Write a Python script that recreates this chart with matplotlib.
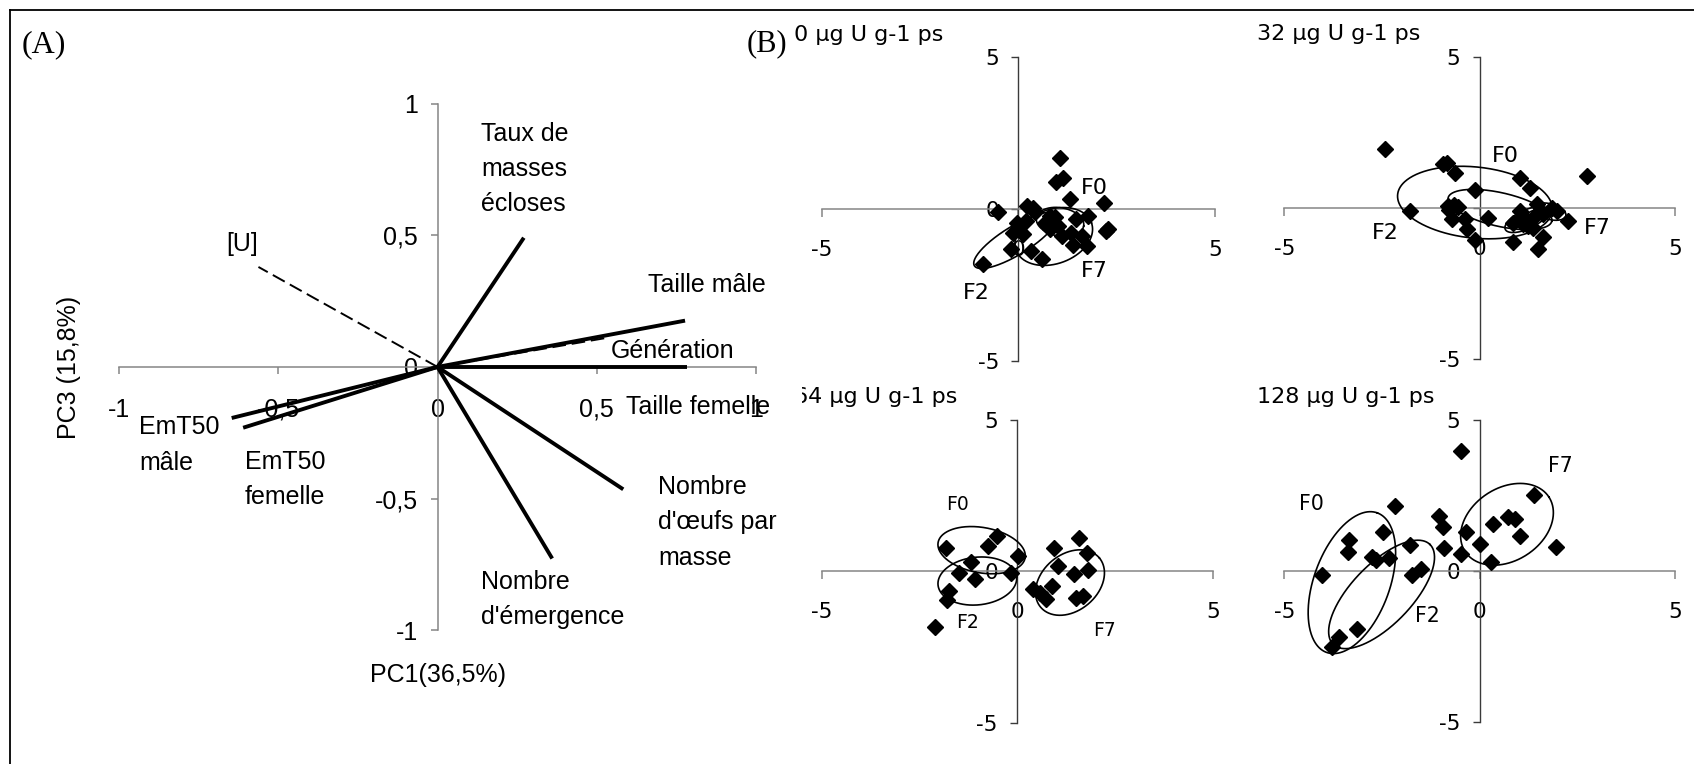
import numpy as np
import matplotlib
matplotlib.use("Agg")
import matplotlib.pyplot as plt
from matplotlib.lines import Line2D
from matplotlib.patches import Rectangle

W, H = 1694, 764

# ---------------- Panel A: variable loadings on PC1 / PC3 ----------------
var_names = ["Taux de\nmasses\nécloses", "Taille mâle", "Taille femelle",
             "Nombre\nd'œufs par\nmasse", "Nombre\nd'émergence",
             "EmT50\nmâle", "EmT50\nfemelle"]
var_pc1 = [0.271, 0.777, 0.783, 0.583, 0.360, -0.646, -0.610]
var_pc3 = [0.491, 0.176, 0.000, -0.465, -0.728, -0.194, -0.231]

# supplementary variables (dashed)
sup_names = ["Génération", "[U]"]
sup_pc1 = [0.524, -0.562]
sup_pc3 = [0.109, 0.380]

pc_ticks = [-1, -0.5, 0, 0.5, 1]
pc_tick_labels = ["-1", "-0,5", "0", "0,5", "1"]

# label anchors in loading units: (left edge, top of first line)
var_label_xy = [(0.136, 0.932), (0.660, 0.358), (0.593, -0.107),
                (0.692, -0.410), (0.136, -0.771), (-0.937, -0.184),
                (-0.605, -0.314)]
# (left edge, baseline)
sup_label_xy = [(0.543, 0.033), (-0.662, 0.442)]

# ---------------- Panel B: individual scores per dose ----------------
doses = ["0 µg U g-1 ps", "32 µg U g-1 ps", "64 µg U g-1 ps", "128 µg U g-1 ps"]

u0_x = [1.06, 1.13, 0.96, 1.31, 2.19, 2.29, 2.23, -0.51, 0.23, 0.38, 0.42,
        0.19, -0.04, -0.13, 0.11, -0.19, 0.32, 0.59, -0.89, 0.68, 0.81, 0.93,
        1.02, 1.10, 1.34, 1.38, 1.61, 1.74, 1.47, 1.78, 0.81]
u0_y = [1.68, 1.04, 0.88, 0.33, 0.20, -0.64, -0.71, -0.08, 0.11, 0.05, -0.09,
        -0.38, -0.46, -0.77, -0.82, -1.32, -1.37, -1.65, -1.79, -0.44, -0.66,
        -0.27, -0.55, -0.90, -0.77, -1.19, -0.88, -1.21, -0.31, -0.22, -0.22]

u32_x = [-2.42, -0.95, -0.84, -0.63, -0.12, 1.03, 1.29, 2.76, -1.79, -0.80,
         -0.66, -0.55, -0.78, -0.72, -0.38, -0.32, -0.12, 0.22, 0.86, 1.50,
         1.63, 2.27, 1.03, 1.12, 1.33, 1.46, 1.54, 1.63, 1.84, 1.97, 0.86,
         1.24, 1.37, 1.12]
u32_y = [1.96, 1.47, 1.48, 1.17, 0.59, 1.00, 0.67, 1.06, -0.10, 0.06,
         0.10, 0.02, -0.08, -0.38, -0.35, -0.69, -1.07, -0.32, -1.13, -1.37,
         -0.95, -0.43, -0.10, -0.27, -0.38, 0.12, -0.10, -0.21, 0.01, -0.10,
         -0.49, -0.60, -0.65, -0.54]

u64_x = [-1.83, -0.74, -0.52, 0.03, -1.19, -1.50, -1.08, -0.17, -1.74, -1.80,
         -2.10, 0.94, 1.59, 1.78, 1.05, 1.44, 1.80, 0.88, 0.41, 0.58, 0.74,
         1.50, 1.69]
u64_y = [0.76, 0.84, 1.17, 0.51, 0.32, -0.07, -0.26, -0.04, -0.65, -0.93,
         -1.84, 0.78, 1.11, 0.59, 0.18, -0.08, 0.03, -0.48, -0.59, -0.73,
         -0.90, -0.87, -0.81]

u128_x = [-4.04, -3.34, -3.38, -2.47, -2.76, -2.65, -2.32, -1.78, -1.74, -1.51,
          -3.13, -3.59, -3.79, -2.17, -1.03, -0.93, -0.91, -0.49, -0.35, 0.01,
          0.28, 0.33, 0.73, 0.90, 1.03, -0.49, 1.39, 1.95]
u128_y = [-0.14, 1.03, 0.64, 1.31, 0.48, 0.37, 0.45, 0.86, -0.14, 0.06,
          -1.93, -2.18, -2.50, 2.15, 1.82, 1.47, 0.75, 0.56, 1.31, 0.91,
          0.31, 1.55, 1.80, 1.74, 1.16, 3.97, 2.51, 0.80]

scores_x = [u0_x, u32_x, u64_x, u128_x]
scores_y = [u0_y, u32_y, u64_y, u128_y]

# generation ellipses: (centre x, centre y, semi-major, semi-minor, angle deg)
ell_u0 = [(-0.07, -1.03, 1.23, 0.36, 31.6), (0.90, -0.90, 1.02, 0.69, 20),
          (1.06, -0.42, 0.61, 0.36, -10)]
ell_u32 = [(-0.12, 0.18, 1.99, 0.91, -6), (0.52, -0.05, 1.36, 0.43, -12.7),
           (1.20, -0.38, 0.60, 0.24, 25), (1.80, -0.12, 0.42, 0.20, -15),
           (1.33, -0.32, 0.34, 0.15, 30)]
ell_u64 = [(-0.91, 0.70, 1.13, 0.58, -10), (-1.02, -0.32, 1.01, 0.61, 6),
           (1.35, -0.37, 0.98, 0.72, 40)]
ell_u128 = [(-3.27, -0.38, 1.90, 0.97, 70), (-2.51, -0.77, 1.78, 0.77, 46),
            (0.70, 1.55, 1.28, 0.93, 33)]
ellipses = [ell_u0, ell_u32, ell_u64, ell_u128]

gen_names = ["F0", "F2", "F7"]
gen_label_xy = [
    [(1.59, 0.49), (-1.40, -2.96), (1.59, -2.25)],
    [(0.31, 1.53), (-2.76, -1.04), (2.67, -0.87)],
    [(-1.83, 2.02), (-1.57, -1.86), (1.93, -2.14)],
    [(-4.63, 2.01), (-1.66, -1.67), (1.76, 3.29)],
]
gen_label_size = [16, 16, 13.5, 14.8]

b_ticks = [-5, 0, 5]
b_tick_labels = ["-5", "0", "5"]

# ---------------- figure ----------------
fig = plt.figure(figsize=(W / 100, H / 100), dpi=100)
fig.patch.set_facecolor("white")

SANS_A = "Liberation Sans"
SANS_B = "DejaVu Sans"
GREY = "#858585"
DARK = "#3a3a3a"
FS_A = 18


def px_axes(left, top, width, height):
    return fig.add_axes([left / W, (H - top - height) / H, width / W, height / H])


# frame around the figure
fig.add_artist(Line2D([10 / W, 10 / W], [0, 1 - 10 / H], color="black", lw=1.3,
                      transform=fig.transFigure))
fig.add_artist(Line2D([10 / W, 1], [1 - 10 / H, 1 - 10 / H], color="black", lw=1.3,
                      transform=fig.transFigure))

fig.text(21.5 / W, 1 - 52.3 / H, "(A)", family="Liberation Serif", fontsize=23,
         va="baseline", ha="left")
fig.text(746.5 / W, 1 - 51.7 / H, "(B)", family="Liberation Serif", fontsize=22,
         va="baseline", ha="left")

# ---- Panel A ----
axA = px_axes(118.9, 103.8, 637.2, 526.3)
axA.set_xlim(-1, 1)
axA.set_ylim(-1, 1)
axA.patch.set_visible(False)
for s in ("top", "right"):
    axA.spines[s].set_visible(False)
axA.spines["left"].set_position(("data", 0))
axA.spines["bottom"].set_position(("data", 0))
for s in ("left", "bottom"):
    axA.spines[s].set_color(GREY)
    axA.spines[s].set_linewidth(1.1)
axA.set_xticks(pc_ticks, pc_tick_labels)
axA.set_yticks(pc_ticks, pc_tick_labels)
axA.tick_params(axis="x", direction="out", length=5, width=1.1, color=GREY,
                pad=17, labelsize=FS_A)
axA.tick_params(axis="y", direction="out", length=5, width=1.1, color=GREY,
                pad=9, labelsize=FS_A)
for lab in axA.get_xticklabels() + axA.get_yticklabels():
    lab.set_family(SANS_A)

for x, y in zip(var_pc1, var_pc3):
    axA.plot([0, x], [0, y], color="black", lw=2.8, solid_capstyle="butt",
             clip_on=False, zorder=3)
for x, y in zip(sup_pc1, sup_pc3):
    axA.plot([0, x], [0, y], color="black", lw=1.4, ls=(0, (7, 3)),
             clip_on=False, zorder=3)

for name, (lx, ly) in zip(var_names, var_label_xy):
    axA.text(lx, ly, name, family=SANS_A, fontsize=FS_A, ha="left",
             va="top", linespacing=1.6, clip_on=False)
for name, (lx, ly) in zip(sup_names, sup_label_xy):
    axA.text(lx, ly, name, family=SANS_A, fontsize=FS_A, ha="left",
             va="baseline", clip_on=False)

axA.text(-1.158, 0.0, "PC3 (15,8%)", family=SANS_A, fontsize=FS_A,
         rotation=90, ha="center", va="center", clip_on=False)
axA.text(0.0, -1.172, "PC1(36,5%)", family=SANS_A, fontsize=FS_A,
         ha="center", va="center", clip_on=False)

# ---- Panel B ----
b_boxes = [(821.7, 57.3, 393.3, 303.7), (1284.3, 56.7, 390.7, 302.6),
           (821.7, 420.0, 391.0, 302.7), (1284.3, 420.0, 390.7, 302.3)]


def draw_ellipse(ax, cx, cy, a, b, ang):
    pos = ax.get_position()
    x0, x1 = ax.get_xlim()
    y0, y1 = ax.get_ylim()
    sx = pos.width * W / (x1 - x0)
    sy = pos.height * H / (y1 - y0)
    t = np.linspace(0, 2 * np.pi, 361)
    th = np.deg2rad(ang)
    ex = a * np.cos(t) * np.cos(th) - b * np.sin(t) * np.sin(th)
    ey = a * np.cos(t) * np.sin(th) + b * np.sin(t) * np.cos(th)
    ax.plot(cx + ex, cy + ey * sx / sy, color="black", lw=1.2, zorder=4)


for i, box in enumerate(b_boxes):
    ax = px_axes(*box)
    ax.set_xlim(-5, 5)
    ax.set_ylim(-5, 5)
    ax.patch.set_visible(False)
    for s in ("top", "right"):
        ax.spines[s].set_visible(False)
    ax.spines["left"].set_position(("data", 0))
    ax.spines["bottom"].set_position(("data", 0))
    ax.spines["bottom"].set_color(GREY)
    ax.spines["left"].set_color(DARK)
    ax.spines["bottom"].set_linewidth(1.1)
    ax.spines["left"].set_linewidth(1.0)
    ax.set_xticks(b_ticks, b_tick_labels)
    ax.set_yticks(b_ticks, b_tick_labels)
    ax.tick_params(axis="x", direction="out", length=6, width=1.1, color=GREY,
                   pad=16, labelsize=15.5)
    ax.tick_params(axis="y", direction="out", length=5, width=1.0, color=DARK,
                   pad=9, labelsize=15.5)
    for lab in ax.get_xticklabels() + ax.get_yticklabels():
        lab.set_family(SANS_B)

    ax.plot(scores_x[i], scores_y[i], ls="none", marker="D", ms=8.5,
            color="black", zorder=3, clip_on=False)
    for e in ellipses[i]:
        draw_ellipse(ax, *e)
    for name, (lx, ly) in zip(gen_names, gen_label_xy[i]):
        ax.text(lx, ly, name, family=SANS_B, fontsize=gen_label_size[i],
                ha="left", va="baseline", clip_on=False)

    title = ax.text(-0.07, 1.055, doses[i], transform=ax.transAxes,
                    family=SANS_B, fontsize=16, ha="left", va="baseline")
    if i == 2:
        # left part of this heading is hidden behind panel A
        title.set_clip_path(Rectangle((801.7 / W, 0), 1, 1,
                                      transform=fig.transFigure))
        title.set_clip_on(True)

fig.savefig("out.png", dpi=100, facecolor="white")
